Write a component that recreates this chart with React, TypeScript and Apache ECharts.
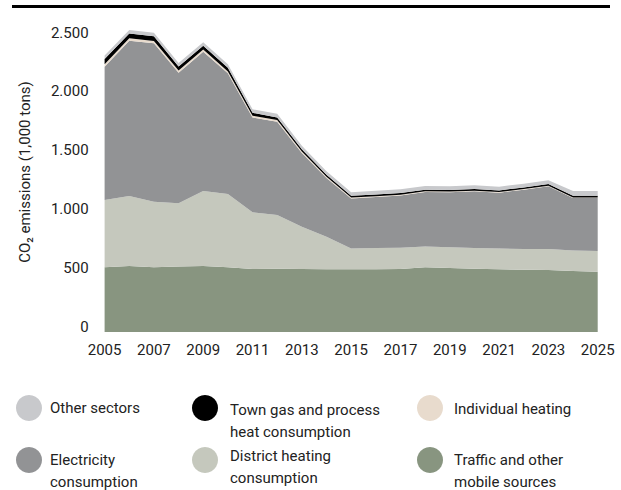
import React, { useEffect, useRef } from "react";
import * as echarts from "echarts";

const years = ["2005","2006","2007","2008","2009","2010","2011","2012","2013","2014","2015","2016","2017","2018","2019","2020","2021","2022","2023","2024","2025"];
const traffic = [550, 561, 550, 556, 561, 550, 536, 538, 536, 533, 533, 533, 536, 550, 544, 538, 533, 530, 527, 519, 513];
const districtHeating = [572, 595, 558, 538, 638, 623, 482, 457, 359, 278, 178, 181, 181, 176, 176, 176, 176, 176, 179, 175, 176];
const electricity = [1134, 1321, 1347, 1111, 1185, 1027, 806, 793, 627, 499, 424, 434, 443, 464, 468, 482, 476, 504, 533, 445, 450];
const individualHeating = [20, 20, 20, 18, 18, 16, 15, 14, 12, 10, 8, 7, 7, 6, 6, 6, 5, 5, 5, 5, 5];
const townGas = [45, 42, 40, 35, 32, 30, 25, 23, 20, 17, 15, 15, 15, 14, 14, 14, 14, 14, 14, 14, 14];
const otherSectors = [30, 30, 30, 30, 30, 30, 30, 30, 30, 30, 30, 32, 32, 32, 32, 32, 32, 32, 32, 42, 42];

const FONT = "Roboto";

const seriesDefs = [
  { name: "Traffic and other mobile sources", data: traffic, color: "#889580" },
  { name: "District heating consumption", data: districtHeating, color: "#c5c8bd" },
  { name: "Electricity consumption", data: electricity, color: "#929395" },
  { name: "Individual heating", data: individualHeating, color: "#e8dbcd" },
  { name: "Town gas and process heat consumption", data: townGas, color: "#000000" },
  { name: "Other sectors", data: otherSectors, color: "#c8c9cc" },
];

const legendItems = [
  { label: "Other sectors", color: "#c8c9cc", cx: 29, cy: 408, tx: 50, ty: 408 },
  { label: "Town gas and process\nheat consumption", color: "#000000", cx: 205, cy: 408, tx: 230, ty: 421 },
  { label: "Individual heating", color: "#e8dbcd", cx: 430, cy: 408, tx: 454, ty: 409 },
  { label: "Electricity\nconsumption", color: "#929395", cx: 29, cy: 460, tx: 50, ty: 471 },
  { label: "District heating\nconsumption", color: "#c5c8bd", cx: 205, cy: 460, tx: 230, ty: 467 },
  { label: "Traffic and other\nmobile sources", color: "#889580", cx: 430, cy: 460, tx: 454, ty: 471 },
];

function fmt(v: number) {
  return String(v).replace(/\B(?=(\d{3})+(?!\d))/g, ".");
}

export default function App() {
  const ref = useRef<HTMLDivElement>(null);
  useEffect(() => {
    if (!ref.current) return;
    const chart = echarts.init(ref.current, undefined, { renderer: "svg" });
    const graphics: any[] = [
      { type: "rect", shape: { x: 12, y: 5, width: 598, height: 3 }, style: { fill: "#000" } },
      {
        type: "text",
        x: 25,
        y: 172,
        rotation: Math.PI / 2,
        style: {
          text: "CO₂ emissions (1,000 tons)",
          fill: "#222",
          font: `15px ${FONT}`,
          align: "center",
          verticalAlign: "middle",
        },
      },
    ];
    legendItems.forEach((it) => {
      graphics.push({ type: "circle", shape: { cx: it.cx, cy: it.cy, r: 13 }, style: { fill: it.color } });
      graphics.push({
        type: "text",
        x: it.tx,
        y: it.ty,
        style: {
          text: it.label,
          fill: "#222",
          font: `15px ${FONT}`,
          lineHeight: 22,
          verticalAlign: "middle",
          align: "left",
        },
      });
    });
    chart.setOption({
      animation: false,
      grid: { left: 104.6, right: 23.3, top: 38, bottom: 158 },
      xAxis: {
        type: "category",
        data: years,
        boundaryGap: false,
        axisLine: { show: false },
        axisTick: { show: false },
        axisLabel: { interval: 1, margin: 10, fontFamily: FONT, fontSize: 15, color: "#222" },
      },
      yAxis: {
        type: "value",
        min: 0,
        max: 2500,
        interval: 500,
        splitLine: { show: false },
        axisLine: { show: false },
        axisTick: { show: false },
        axisLabel: {
          formatter: (v: number) => fmt(v),
          margin: 16,
          fontFamily: FONT,
          fontSize: 15,
          color: "#222",
          verticalAlign: "bottom",
          lineHeight: 11,
        },
      },
      series: seriesDefs.map((s) => ({
        name: s.name,
        type: "line",
        stack: "total",
        data: s.data,
        symbol: "none",
        clip: false,
        lineStyle: { width: 0 },
        areaStyle: { color: s.color, opacity: 1 },
        itemStyle: { color: s.color },
      })),
      graphic: graphics,
    });
    return () => chart.dispose();
  }, []);
  return (
    <div
      ref={ref}
      style={{ position: "absolute", left: 0, top: 0, width: 621, height: 490, background: "#fff" }}
    />
  );
}
